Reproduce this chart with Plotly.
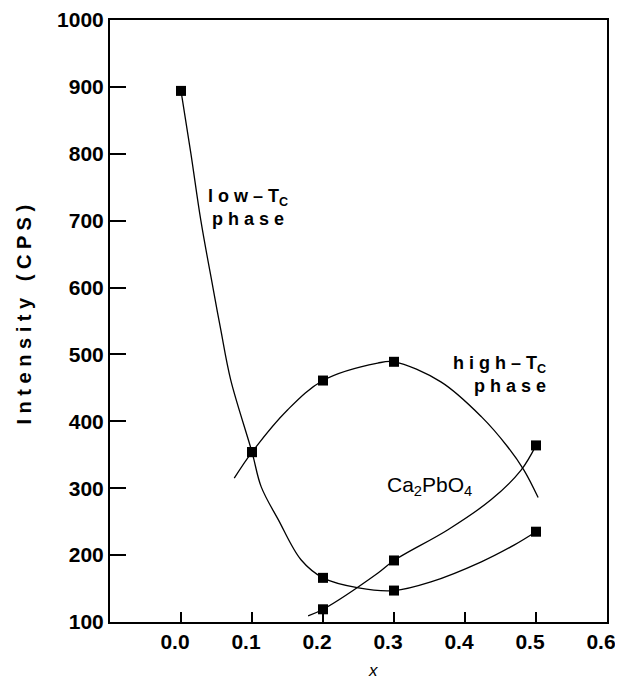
import plotly.graph_objects as go

# Measured data points (markers)
low_x = [0.0, 0.1, 0.2, 0.3, 0.5]
low_y = [894, 354, 166, 147, 235]
high_x = [0.1, 0.2, 0.3]
high_y = [354, 461, 489]
ca_x = [0.2, 0.3, 0.5]
ca_y = [119, 192, 364]

# Hand-drawn guide curves
low_curve_x = [0.0, 0.014, 0.028, 0.045, 0.056, 0.07, 0.1, 0.113, 0.137, 0.169, 0.2, 0.25, 0.3, 0.352, 0.423, 0.469, 0.5]
low_curve_y = [894, 800, 700, 600, 537, 462, 354, 302, 253, 193, 166, 151, 147, 160, 190, 215, 235]
high_curve_x = [0.075, 0.1, 0.15, 0.2, 0.277, 0.3, 0.366, 0.423, 0.46, 0.483, 0.503]
high_curve_y = [315, 354, 417, 461, 487, 489, 459, 407, 362, 327, 286]
ca_curve_x = [0.179, 0.2, 0.277, 0.3, 0.376, 0.437, 0.479, 0.5]
ca_curve_y = [109, 119, 173, 192, 238, 283, 327, 364]

x_ticks = [0.0, 0.1, 0.2, 0.3, 0.4, 0.5, 0.6]
x_labels = ["0.0", "0.1", "0.2", "0.3", "0.4", "0.5", "0.6"]
y_ticks = [100, 200, 300, 400, 500, 600, 700, 800, 900, 1000]

FONT = "Liberation Sans, Arial, sans-serif"

fig = go.Figure()
for cx, cy in [(low_curve_x, low_curve_y), (high_curve_x, high_curve_y), (ca_curve_x, ca_curve_y)]:
    fig.add_trace(go.Scatter(x=cx, y=cy, mode="lines",
                             line=dict(color="black", width=1.3, shape="spline", smoothing=1.0),
                             showlegend=False, hoverinfo="skip"))
for mx, my in [(low_x, low_y), (high_x, high_y), (ca_x, ca_y)]:
    fig.add_trace(go.Scatter(x=mx, y=my, mode="markers",
                             marker=dict(symbol="square", size=10, color="black"),
                             showlegend=False))

tfont = dict(family=FONT, size=18, color="black")
fig.add_annotation(x=0.094, y=720, xref="x", yref="y",
                   text="<b>l o w – T<sub>C</sub><br>p h a s e</b>",
                   showarrow=False, font=tfont, align="center")
fig.add_annotation(x=0.449, y=470, xref="x", yref="y",
                   text="<b>h i g h – T<sub>C</sub><br>   p h a s e</b>",
                   showarrow=False, font=tfont, align="right")
fig.add_annotation(x=0.35, y=304, xref="x", yref="y",
                   text="Ca<sub>2</sub>PbO<sub>4</sub>",
                   showarrow=False, font=dict(family=FONT, size=21, color="black"))
fig.add_annotation(x=-0.2, y=0.51, xref="paper", yref="paper",
                   text="<b>I n t e n s i t y   ( C P S )</b>", textangle=-90,
                   showarrow=False, font=dict(family=FONT, size=20, color="black"))
fig.add_annotation(x=0.27, y=-0.1, xref="x", yref="paper",
                   text="<i>x</i>", showarrow=False,
                   font=dict(family=FONT, size=17, color="black"))

axfont = dict(family=FONT, size=21, color="black")
fig.update_xaxes(range=[-0.1, 0.6], tickvals=x_ticks, ticktext=["<b>%s</b>" % s for s in x_labels],
                 ticks="inside", ticklen=10, tickwidth=1.5, tickcolor="black",
                 ticklabelshift=-6, ticklabeloverflow="allow",
                 showline=True, linewidth=2, linecolor="black", mirror=True,
                 showgrid=False, zeroline=False, tickfont=axfont, automargin=False)
fig.update_yaxes(range=[100, 1000], tickvals=y_ticks, ticktext=["<b>%d</b>" % v for v in y_ticks],
                 ticks="inside", ticklen=16, tickwidth=1.5, tickcolor="black",
                 showline=True, linewidth=2, linecolor="black", mirror=True,
                 showgrid=False, zeroline=False, tickfont=axfont, automargin=False)
fig.update_layout(width=615, height=674, margin=dict(l=102, r=16, t=12, b=60),
                  plot_bgcolor="white", paper_bgcolor="white")
fig.write_html("out.html")
